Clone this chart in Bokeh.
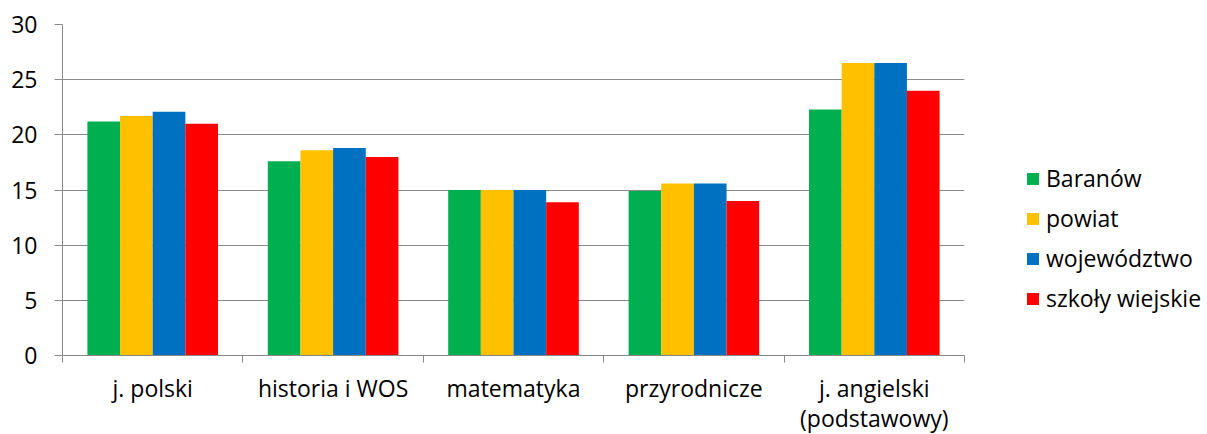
from bokeh.plotting import figure
from bokeh.models import Range1d, FixedTicker, Legend, LegendItem, ColumnDataSource
from bokeh.transform import dodge
from bokeh.embed import file_html
from bokeh.resources import INLINE

categories = ["j. polski", "historia i WOS", "matematyka", "przyrodnicze", "j. angielski\n(podstawowy)"]
series_names = ["Baranów", "powiat", "województwo", "szkoły wiejskie"]
baranow = [21.2, 17.6, 15.0, 14.9, 22.3]
powiat = [21.7, 18.6, 15.0, 15.6, 26.5]
wojewodztwo = [22.1, 18.8, 15.0, 15.6, 26.5]
wiejskie = [21.0, 18.0, 13.9, 14.0, 24.0]
colors = ["#00B050", "#FFC000", "#0070C0", "#FF0000"]
y_ticks = [0, 5, 10, 15, 20, 25, 30]

FONT = "Open Sans"
GRAY = "#898989"

n = len(categories)
centers = [i + 0.5 for i in range(n)]
bounds = [float(i) for i in range(n + 1)]

src = ColumnDataSource(dict(x=centers, b=baranow, p=powiat, w=wojewodztwo, s=wiejskie))

p = figure(frame_width=902, frame_height=331, x_range=Range1d(0, n), y_range=Range1d(0, 30),
           output_backend="svg", toolbar_location=None,
           min_border_left=62, min_border_right=0, min_border_top=24, min_border_bottom=76)
p.outline_line_color = None
p.background_fill_color = "white"
p.border_fill_color = "white"

bar_w = 0.181
offsets = [-1.5 * bar_w, -0.5 * bar_w, 0.5 * bar_w, 1.5 * bar_w]
renderers = []
for col, off, c in zip(["b", "p", "w", "s"], offsets, colors):
    r = p.vbar(x=dodge("x", off, range=p.x_range), top=col, width=bar_w, source=src,
               fill_color=c, line_color=None)
    renderers.append(r)

# x axis
xa = p.xaxis[0]
xa.ticker = FixedTicker(ticks=centers, minor_ticks=bounds)
xa.major_label_overrides = {c: lab for c, lab in zip(centers, categories)}
xa.major_tick_line_color = None
xa.major_tick_out = 7
xa.major_tick_in = 0
xa.minor_tick_out = 7
xa.minor_tick_in = 0
xa.minor_tick_line_color = GRAY
xa.axis_line_color = GRAY
xa.major_label_standoff = 9
xa.major_label_text_font = FONT
xa.major_label_text_font_size = "23px"
xa.major_label_text_color = "black"
xa.major_label_text_line_height = 0.95

# y axis
ya = p.yaxis[0]
ya.ticker = FixedTicker(ticks=y_ticks)
ya.major_tick_out = 8
ya.major_tick_in = 0
ya.minor_tick_line_color = None
ya.major_tick_line_color = GRAY
ya.axis_line_color = GRAY
ya.major_label_standoff = 17
ya.major_label_text_font = FONT
ya.major_label_text_font_size = "23px"
ya.major_label_text_color = "black"

p.xgrid.visible = False
p.ygrid.grid_line_color = GRAY
p.ygrid.grid_line_width = 1

legend = Legend(items=[LegendItem(label=nm, renderers=[r]) for nm, r in zip(series_names, renderers)],
                location=(61, 41), orientation="vertical")
legend.glyph_width = 15
legend.glyph_height = 15
legend.label_height = 30
legend.spacing = 8
legend.label_standoff = 6
legend.padding = 0
legend.margin = 0
legend.border_line_color = None
legend.background_fill_alpha = 0
legend.label_text_font = FONT
legend.label_text_font_size = "23px"
legend.label_text_color = "black"
legend.label_text_baseline = "middle"
p.add_layout(legend, "right")

open("out.html", "w").write(file_html(p, INLINE))
